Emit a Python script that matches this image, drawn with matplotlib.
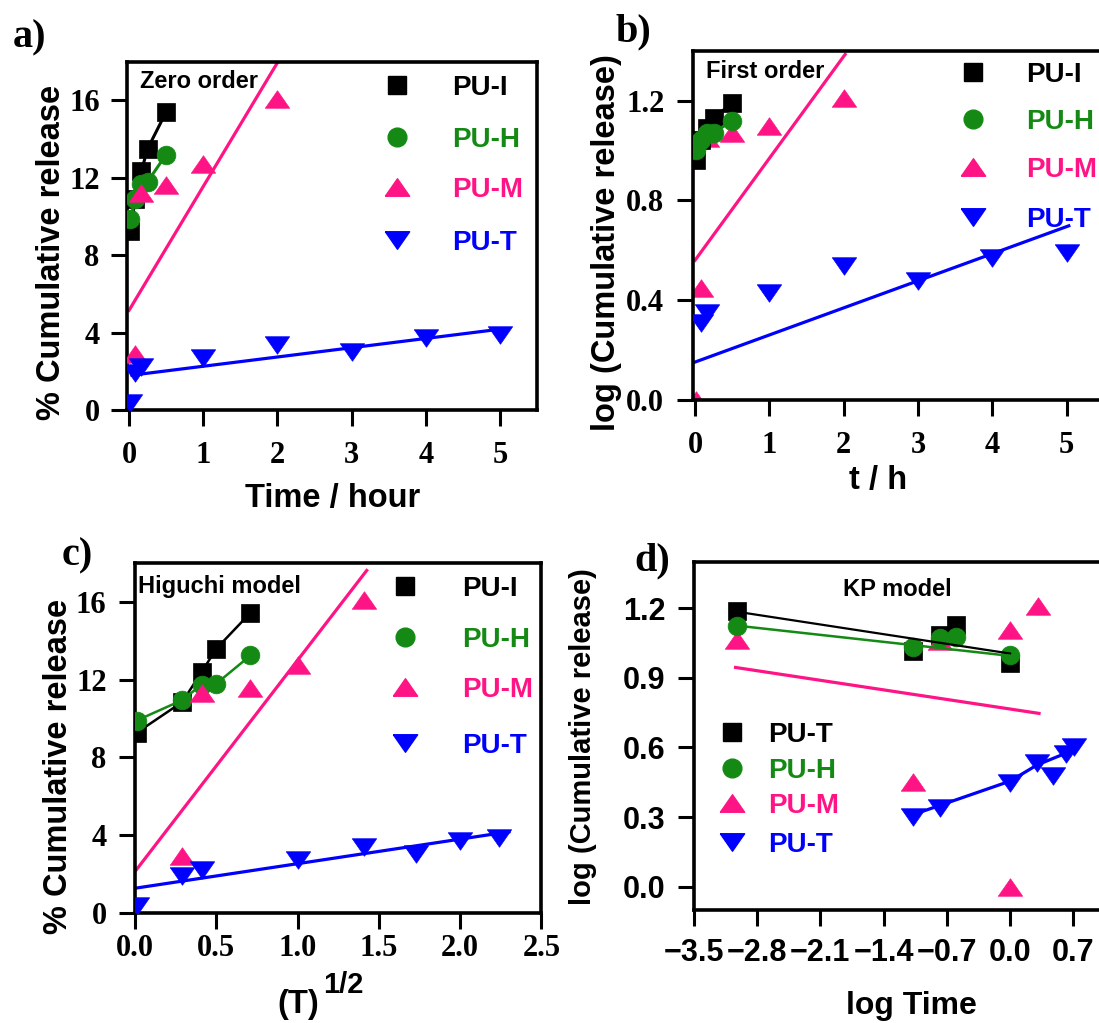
import matplotlib
matplotlib.use("Agg")
import matplotlib.pyplot as plt

# ---- % cumulative release vs time (h) ----
t_IH = [0.017, 0.083, 0.167, 0.25, 0.5]
t_M = [0.083, 0.167, 0.5, 1, 2]
t_T = [0.017, 0.083, 0.167, 1, 2, 3, 4, 5]

rel_I = [9.25, 10.9, 12.35, 13.5, 15.4]
rel_H = [9.85, 10.9, 11.7, 11.8, 13.2]
rel_M = [2.9, 11.2, 11.65, 12.7, 16.05]
rel_T = [0.35, 1.9, 2.2, 2.7, 3.35, 3.0, 3.7, 3.9]

zero_fit_M_x = [0.0, 2.0]
zero_fit_M_y = [5.15, 17.95]
zero_fit_T_x = [0.04, 5.05]
zero_fit_T_y = [1.8, 4.2]

# ---- first order: log(cumulative release) vs t ----
t_M_first = [0.017, 0.083, 0.167, 0.5, 1, 2]
t_T_first = [0.083, 0.167, 1, 2, 3, 4, 5]
log_I = [0.96, 1.04, 1.09, 1.13, 1.19]
log_H = [1.0, 1.04, 1.07, 1.07, 1.12]
log_M = [0.0, 0.45, 1.05, 1.07, 1.10, 1.21]
log_T = [0.31, 0.35, 0.43, 0.535, 0.475, 0.57, 0.59]

first_fit_M_x = [0.0, 2.02]
first_fit_M_y = [0.56, 1.385]
first_fit_T_x = [0.0, 5.03]
first_fit_T_y = [0.152, 0.698]

# ---- Higuchi: release vs T^(1/2) ----
sq_IH = [0.01, 0.29, 0.41, 0.5, 0.71]
sq_M = [0.29, 0.41, 0.71, 1.0, 1.41]
sq_T = [0.01, 0.29, 0.41, 1.0, 1.41, 1.73, 2.0, 2.24]
hig_I = [9.27, 10.85, 12.4, 13.6, 15.45]
hig_H = [9.9, 10.95, 11.75, 11.8, 13.25]
hig_M = [2.9, 11.3, 11.6, 12.75, 16.1]
hig_T = [0.35, 1.9, 2.2, 2.72, 3.4, 3.0, 3.7, 3.85]

hig_fit_M_x = [0.0, 1.425]
hig_fit_M_y = [2.12, 17.63]
hig_fit_T_x = [0.0, 2.30]
hig_fit_T_y = [1.26, 4.17]

# ---- Korsmeyer-Peppas: log release vs log time ----
kp_x_IH = [-3.02, -1.08, -0.78, -0.6, 0.0]
kp_I = [1.19, 1.015, 1.085, 1.13, 0.965]
kp_H = [1.125, 1.035, 1.07, 1.075, 1.0]
kp_x_M = [-3.02, -1.08, -0.78, 0.0, 0.0, 0.31]
kp_M = [1.065, 0.45, 1.06, 1.105, 0.0, 1.21]
kp_x_T = [-1.08, -0.78, 0.0, 0.30, 0.47, 0.62, 0.71]
kp_T = [0.30, 0.34, 0.445, 0.535, 0.475, 0.57, 0.60]

kp_fit_I_x = [-3.02, 0.0]
kp_fit_I_y = [1.185, 1.005]
kp_fit_H_x = [-3.02, 0.0]
kp_fit_H_y = [1.125, 0.995]
kp_fit_M_x = [-3.04, 0.32]
kp_fit_M_y = [0.945, 0.747]
kp_fit_T_x = [-1.08, -0.78, 0.0, 0.30, 0.71]
kp_fit_T_y = [0.31, 0.35, 0.455, 0.525, 0.59]

BLACK, GREEN, PINK, BLUE = "#000000", "#148a14", "#ff1485", "#0000ff"
SERIF, SANS = "Liberation Serif", "Liberation Sans"
TRI_UP = [(-1, -0.72), (1, -0.72), (0, 0.72), (-1, -0.72)]
TRI_DN = [(-1, 0.72), (1, 0.72), (0, -0.72), (-1, 0.72)]
MK = {"s": ("s", 13), "o": ("o", 13.5), "^": (TRI_UP, 17.5), "v": (TRI_DN, 17.5)}


def frame(ax, xlim, ylim, xticks, yticks, xfmt, yfmt, family, size, xpad, ypad):
    ax.set_xlim(*xlim)
    ax.set_ylim(*ylim)
    ax.set_xticks(xticks)
    ax.set_xticklabels([(xfmt % v).replace("-", "\u2212") for v in xticks],
                       fontfamily=family, fontweight="bold", fontsize=size)
    ax.set_yticks(yticks)
    ax.set_yticklabels([(yfmt % v).replace("-", "\u2212") for v in yticks],
                       fontfamily=family, fontweight="bold", fontsize=size)
    ax.tick_params(direction="out", length=11.5, width=2.2, top=False, right=False)
    ax.tick_params(axis="x", pad=xpad)
    ax.tick_params(axis="y", pad=ypad)
    for sp in ax.spines.values():
        sp.set_linewidth(2.6)


def pts(ax, x, y, color, m, line=False, lw=2.0, z=3):
    marker, ms = MK[m]
    ax.plot(x, y, ls="-" if line else "none", lw=lw, color=color, marker=marker,
            ms=ms, mec=color, mew=0.5, zorder=z)


def key(ax, rows, mx, tx, ys, size=20):
    for (label, color, m), y in zip(rows, ys):
        marker, ms = MK[m]
        ax.plot([mx], [y], ls="none", marker=marker, ms=ms, color=color, mec=color,
                transform=ax.transAxes, clip_on=False)
        ax.text(tx, y, label, color=color, transform=ax.transAxes, ha="left",
                va="center_baseline", fontsize=size, fontfamily=SANS, fontweight="bold")


def note(ax, x, y, s, ha="left"):
    ax.text(x, y, s, transform=ax.transAxes, ha=ha, va="baseline", fontsize=17,
            fontfamily=SANS, fontweight="bold")


LABEL = dict(fontsize=23.5, fontfamily=SANS, fontweight="bold")
ROWS = [("PU-I", BLACK, "s"), ("PU-H", GREEN, "o"), ("PU-M", PINK, "^"), ("PU-T", BLUE, "v")]

fig = plt.figure(figsize=(10.99, 10.23), dpi=100)

# a) zero order
ax = fig.add_axes([0.11538, 0.59922, 0.37334, 0.34047])
frame(ax, (-0.03, 5.5), (0, 18), [0, 1, 2, 3, 4, 5], [0, 4, 8, 12, 16],
      "%d", "%d", SERIF, 22, 11, 8)
pts(ax, t_IH, rel_I, BLACK, "s", line=True, lw=2.2)
pts(ax, t_IH, rel_H, GREEN, "o", line=True, lw=2.2)
ax.plot(zero_fit_M_x, zero_fit_M_y, color=PINK, lw=2.3)
pts(ax, t_M, rel_M, PINK, "^")
ax.plot(zero_fit_T_x, zero_fit_T_y, color=BLUE, lw=2.3)
pts(ax, t_T, rel_T, BLUE, "v")
note(ax, 0.032, 0.924, "Zero order")
key(ax, ROWS, 0.6585, 0.7926, [0.933, 0.784, 0.640, 0.488])
ax.set_xlabel("Time / hour", va="baseline", **LABEL)
ax.xaxis.set_label_coords(0.5026, -0.2776)
ax.set_ylabel("% Cumulative release", va="center", **LABEL)
ax.yaxis.set_label_coords(-0.184, 0.451)

# b) first order
ax = fig.add_axes([0.63040, 0.60900, 0.37390, 0.34150])
frame(ax, (-0.03, 5.5), (0, 1.4), [0, 1, 2, 3, 4, 5], [0.0, 0.4, 0.8, 1.2],
      "%d", "%.1f", SERIF, 22, 11, 9)
pts(ax, t_M_first, log_M, PINK, "^", z=2)
pts(ax, t_IH, log_I, BLACK, "s", line=True, lw=2.2)
pts(ax, t_IH, log_H, GREEN, "o", line=True, lw=2.2)
ax.plot(first_fit_M_x, first_fit_M_y, color=PINK, lw=2.3)
ax.plot(first_fit_T_x, first_fit_T_y, color=BLUE, lw=2.3)
pts(ax, t_T_first, log_T, BLUE, "v")
note(ax, 0.032, 0.921, "First order")
key(ax, ROWS, 0.683, 0.811, [0.938, 0.804, 0.668, 0.523])
ax.set_xlabel("t / h", va="baseline", **LABEL)
ax.xaxis.set_label_coords(0.452, -0.2557)
ax.set_ylabel("log (Cumulative release)", va="center", **LABEL)
ax.yaxis.set_label_coords(-0.2095, 0.4495)

# c) Higuchi model
ax = fig.add_axes([0.12284, 0.10782, 0.36988, 0.34155])
frame(ax, (0, 2.5), (0, 18), [0.0, 0.5, 1.0, 1.5, 2.0, 2.5], [0, 4, 8, 12, 16],
      "%.1f", "%d", SERIF, 22, 4, 9)
pts(ax, sq_IH, hig_I, BLACK, "s", line=True, lw=1.8)
pts(ax, sq_IH, hig_H, GREEN, "o", line=True, lw=1.8)
ax.plot(hig_fit_M_x, hig_fit_M_y, color=PINK, lw=2.3)
pts(ax, sq_M, hig_M, PINK, "^")
ax.plot(hig_fit_T_x, hig_fit_T_y, color=BLUE, lw=2.3)
pts(ax, sq_T, hig_T, BLUE, "v")
note(ax, 0.0074, 0.914, "Higuchi model")
key(ax, ROWS, 0.664, 0.804, [0.936, 0.788, 0.647, 0.485])
ax.text(0.401, -0.287, "(T)", transform=ax.transAxes, ha="center", va="baseline", **LABEL)
ax.text(0.5117, -0.2307, "1/2", transform=ax.transAxes, ha="center", va="baseline",
        fontsize=21, fontfamily=SANS, fontweight="bold")
ax.set_ylabel("% Cumulative release", va="center", **LABEL)
ax.yaxis.set_label_coords(-0.1875, 0.42)

# d) KP model
ax = fig.add_axes([0.63148, 0.11056, 0.36979, 0.34018])
frame(ax, (-3.5, 1.0), (-0.1, 1.4), [-3.5, -2.8, -2.1, -1.4, -0.7, 0.0, 0.7],
      [0.0, 0.3, 0.6, 0.9, 1.2], "%.1f", "%.1f", SANS, 22, 9, 9)
pts(ax, kp_x_IH, kp_I, BLACK, "s")
pts(ax, kp_x_M, kp_M, PINK, "^")
pts(ax, kp_x_IH, kp_H, GREEN, "o")
ax.plot(kp_fit_I_x, kp_fit_I_y, color=BLACK, lw=1.6, zorder=4)
ax.plot(kp_fit_H_x, kp_fit_H_y, color=GREEN, lw=1.8, zorder=4)
ax.plot(kp_fit_M_x, kp_fit_M_y, color=PINK, lw=2.3)
pts(ax, kp_x_T, kp_T, BLUE, "v")
ax.plot(kp_fit_T_x, kp_fit_T_y, color=BLUE, lw=2.3, zorder=4)
note(ax, 0.3666, 0.902, "KP model")
kp_rows = [("PU-T", BLACK, "s"), ("PU-H", GREEN, "o"), ("PU-M", PINK, "^"), ("PU-T", BLUE, "v")]
key(ax, kp_rows, 0.0928, 0.183, [0.510, 0.409, 0.306, 0.196])
ax.set_xlabel("log Time", va="baseline", fontsize=23, fontfamily=SANS, fontweight="bold")
ax.xaxis.set_label_coords(0.534, -0.300)
ax.set_ylabel("log (Cumulative release)", va="center", fontsize=21,
              fontfamily=SANS, fontweight="bold")
ax.yaxis.set_label_coords(-0.273, 0.498)

# panel letters
for s, x, y in [("a)", 29, 38), ("b)", 633, 32), ("c)", 77, 556), ("d)", 652, 561)]:
    fig.text(x / 1099, 1 - y / 1023, s, ha="center", va="center", fontsize=29,
             fontfamily=SERIF, fontweight="bold")

fig.savefig("out.png", dpi=100)
